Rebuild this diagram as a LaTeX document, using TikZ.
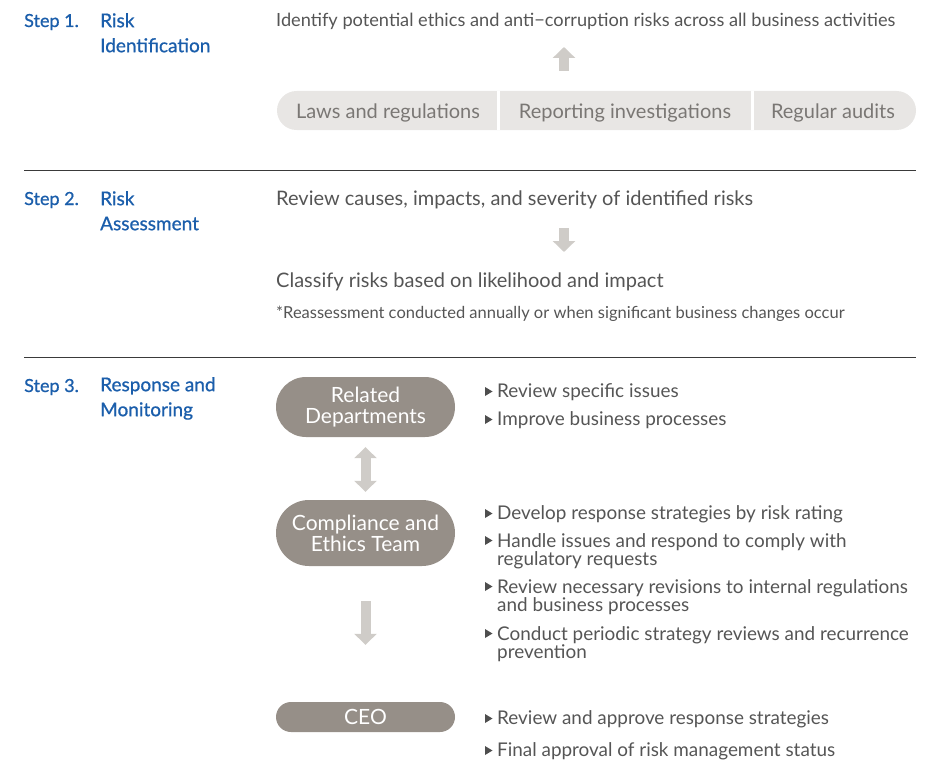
\documentclass[tikz,border=0pt]{standalone}
\usepackage{fontspec}
\setmainfont{Lato}
\newfontfamily\bluefont{Lato}[FakeBold=0.8]
\usetikzlibrary{arrows.meta,shapes.misc}
\definecolor{stepblue}{HTML}{1B5EAB}
\definecolor{txt}{HTML}{555555}
\definecolor{pillc}{HTML}{968F88}
\definecolor{barfill}{HTML}{E8E6E4}
\definecolor{bartxt}{HTML}{7A7774}
\definecolor{arr}{HTML}{CFCCC8}
\definecolor{rulec}{HTML}{3A3A3A}
\tikzset{
  stepl/.style={anchor=base west,inner sep=0,text=stepblue,font=\bluefont\fontsize{18}{26}\selectfont},
  steptitle/.style={anchor=north west,inner sep=0,text=stepblue,align=left,font=\bluefont\fontsize{19}{25}\selectfont},
  body/.style={anchor=base west,inner sep=0,text=txt,font=\fontsize{20}{22}\selectfont},
  note/.style={anchor=base west,inner sep=0,text=txt,font=\fontsize{16.5}{18}\selectfont},
  bartext/.style={anchor=base,inner sep=0,text=bartxt,font=\fontsize{20}{22}\selectfont},
  pill/.style={rounded rectangle,fill=pillc,text=white,minimum width=179pt,align=center,inner sep=0,font=\fontsize{21}{21}\selectfont},
  bullet/.style={anchor=base west,inner sep=0,text=txt,align=left,font=\fontsize{18.9}{18.5}\selectfont},
  blockarr/.style={draw=arr,line width=10pt,-{Triangle[width=22pt,length=11pt]}},
  blockdbl/.style={draw=arr,line width=10pt,{Triangle[width=22pt,length=11pt]}-{Triangle[width=22pt,length=11pt]}},
  sep/.style={draw=rulec,line width=1pt},
}
\newcommand{\tri}[1]{\fill[rulec!90] ([xshift=-12pt,yshift=1pt]#1.base west) -- ++(0,9pt) -- ++(7.5pt,-4.5pt) -- cycle;}
\begin{document}
\begin{tikzpicture}[x=1pt,y=-1pt]
\useasboundingbox (0,0) rectangle (943,760);
% Step 1
\node[stepl] (s1) at (24,27) {Step 1.};
\node[steptitle] (t1) at (100,13) {Risk\\Identification};
\node[body,font=\fontsize{18.2}{22}\selectfont] (id) at (276,27) {Identify potential ethics and anti−corruption risks across all business activities};
\fill[barfill,rounded corners=19.5pt] (277,91) rectangle (916,130);
\fill[white] (497,91) rectangle (499.5,130);
\fill[white] (751,91) rectangle (753.5,130);
\node[bartext] (laws) at (388,118) {Laws and regulations};
\node[bartext] (rep) at (625,118) {Reporting investigations};
\node[bartext] (aud) at (833,118) {Regular audits};
\coordinate (a1s) at (564,71);
\coordinate (a1e) at (564,47);
\draw[blockarr] (a1s) -- (a1e);
\draw[sep] (24,170) -- (916,170);
% Step 2
\node[stepl] (s2) at (24,205) {Step 2.};
\node[steptitle] (t2) at (100,191) {Risk\\Assessment};
\node[body] (rev) at (276,205) {Review causes, impacts, and severity of identified risks};
\coordinate (a2s) at (564,228);
\coordinate (a2e) at (564,252);
\draw[blockarr] (a2s) -- (a2e);
\node[body] (cls) at (276,287) {Classify risks based on likelihood and impact};
\node[note] (nt) at (276,318) {*Reassessment conducted annually or when significant business changes occur};
\draw[sep] (24,357) -- (916,357);
% Step 3
\node[stepl] (s3) at (24,392) {Step 3.};
\node[steptitle] (t3) at (100,377) {Response and\\Monitoring};
\node[pill,minimum height=60pt] (rd) at (365.5,407) {Related\\Departments};
\node[pill,minimum height=66pt] (ce) at (365.5,533) {Compliance and\\Ethics Team};
\node[pill,minimum height=30pt] (ceo) at (365.5,717) {CEO};
\draw[blockdbl] ([yshift=-10pt]rd.south) -- ([yshift=8pt]ce.north);
\draw[blockarr] ([yshift=-35pt]ce.south) -- ([yshift=57pt]ceo.north);
% bullets
\node[bullet] (b1) at (497,397) {Review specific issues}; \tri{b1}
\node[bullet] (b2) at (497,425) {Improve business processes}; \tri{b2}
\node[bullet] (b3) at (497,519) {Develop response strategies by risk rating}; \tri{b3}
\node[bullet,anchor=north west] (b4) at (497,533) {Handle issues and respond to comply with\\regulatory requests};
\fill[rulec!90] (485,536) -- ++(0,9) -- ++(7.5,-4.5) -- cycle;
\node[bullet,anchor=north west] (b5) at (497,579) {Review necessary revisions to internal regulations\\and business processes};
\fill[rulec!90] (485,582) -- ++(0,9) -- ++(7.5,-4.5) -- cycle;
\node[bullet,anchor=north west] (b6) at (497,626) {Conduct periodic strategy reviews and recurrence\\prevention};
\fill[rulec!90] (485,629) -- ++(0,9) -- ++(7.5,-4.5) -- cycle;
\node[bullet] (b7) at (497,724) {Review and approve response strategies}; \tri{b7}
\node[bullet] (b8) at (497,756) {Final approval of risk management status}; \tri{b8}
\end{tikzpicture}
\end{document}
